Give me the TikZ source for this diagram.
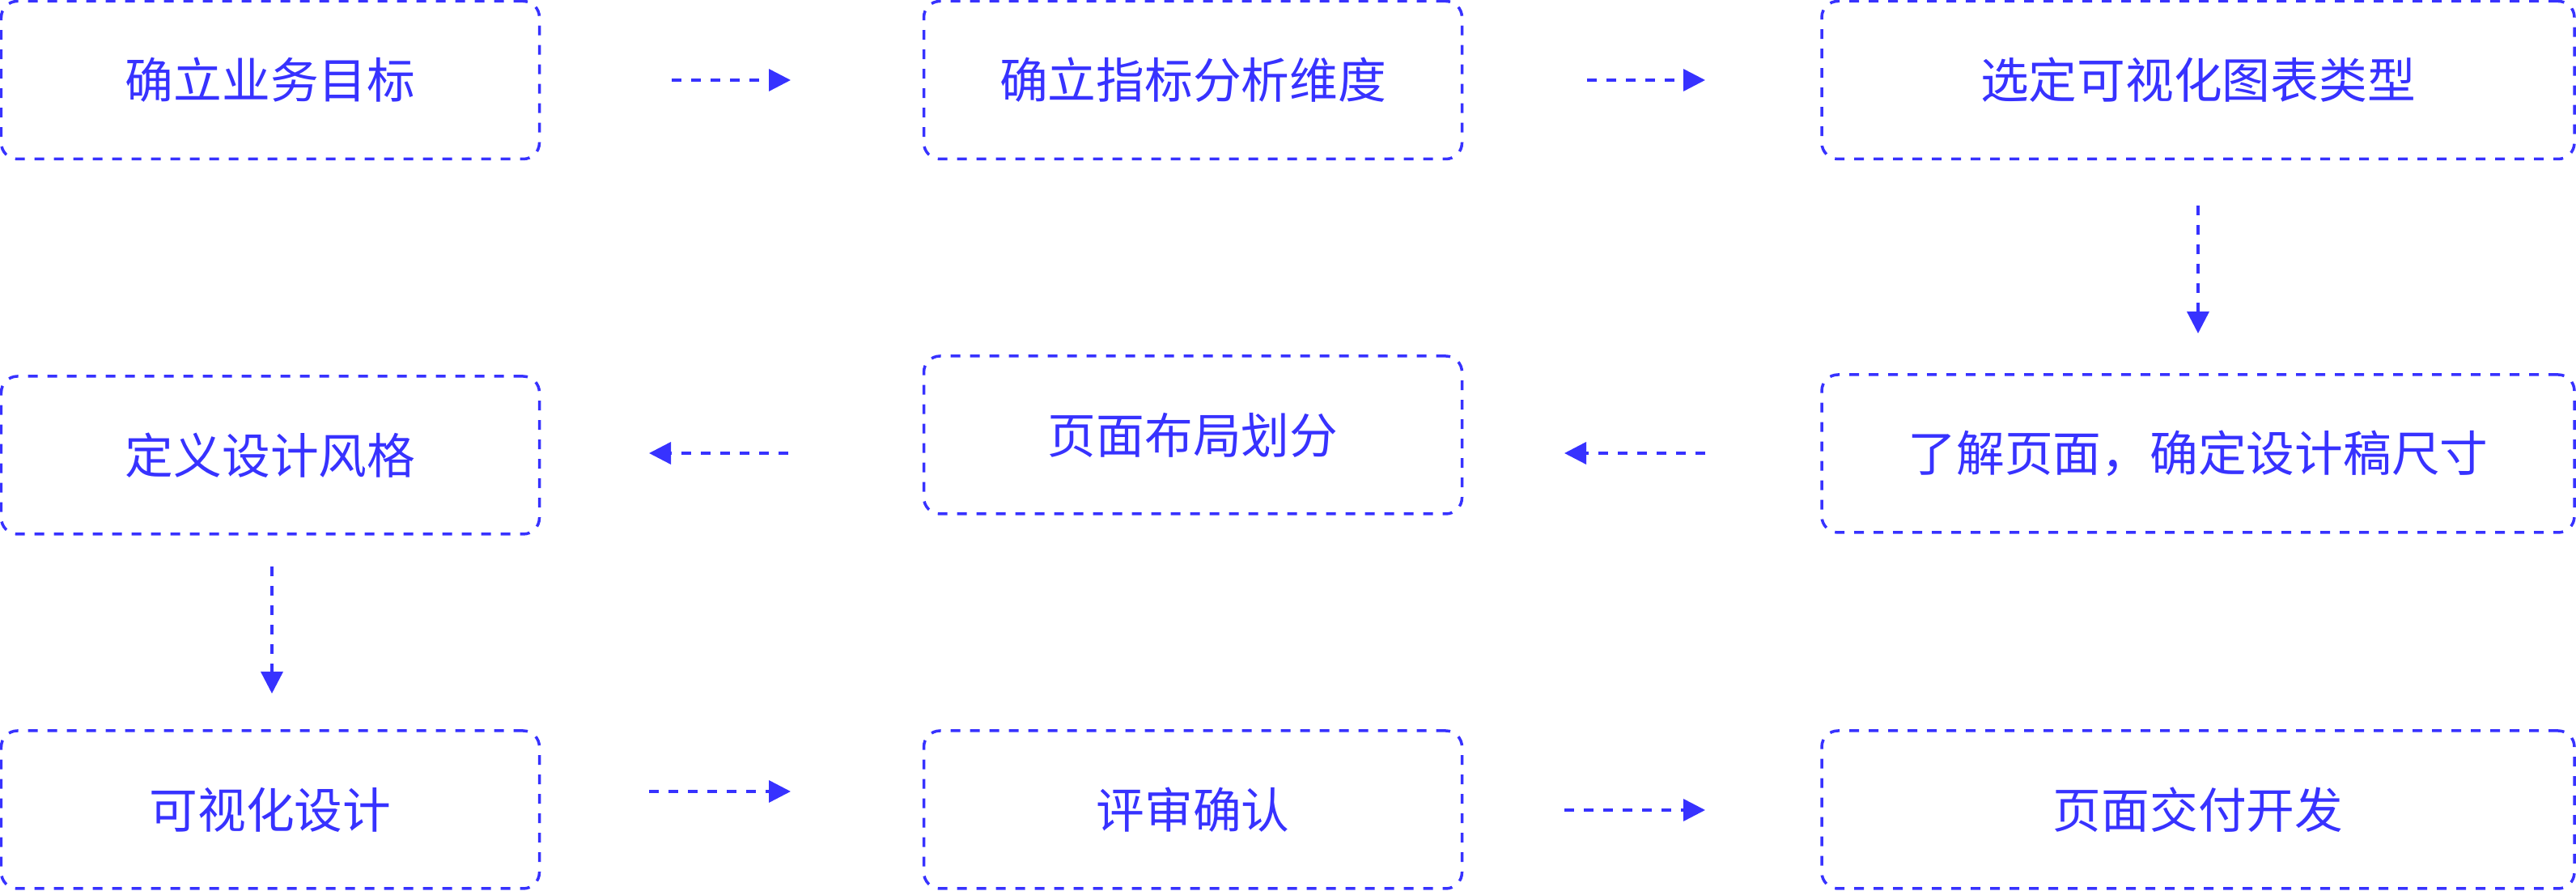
\documentclass[tikz,border=0pt]{standalone}
\usepackage{fontspec}
\newfontfamily\cjk{Noto Sans CJK SC}
\usetikzlibrary{arrows.meta}
\definecolor{flowblue}{RGB}{55,50,255}
\begin{document}
\begin{tikzpicture}[line width=0.035cm, color=flowblue, dash pattern=on 0.12cm off 0.12cm,
box node/.style={draw,rounded corners=0.2cm,minimum height=1.95cm,inner sep=0pt},
narrow node/.style={box node,minimum width=6.65cm},
wide node/.style={box node,minimum width=9.30cm},
flow/.style={-{Triangle[length=0.27cm,width=0.27cm]}}]
\useasboundingbox (0,0) rectangle (31.83,-11.01);
\begin{scope}[every node/.style={font=\cjk\fontsize{17pt}{20pt}\selectfont}]
\node [narrow node] (goal) at (3.34,-0.99) {确立业务目标};
\node [narrow node] (dims) at (14.74,-0.99) {确立指标分析维度};
\node [wide node] (chart) at (27.16,-0.99) {选定可视化图表类型};
\node [narrow node] (style) at (3.34,-5.625) {定义设计风格};
\node [narrow node] (layout) at (14.74,-5.375) {页面布局划分};
\node [wide node] (size) at (27.16,-5.605) {了解页面，确定设计稿尺寸};
\node [narrow node] (design) at (3.34,-10.005) {可视化设计};
\node [narrow node] (review) at (14.74,-10.005) {评审确认};
\node [wide node] (deliver) at (27.16,-10.005) {页面交付开发};
\end{scope}
% arrow ends
\coordinate (a11) at (8.30,-0.99);
\coordinate (a12) at (9.77,-0.99);
\coordinate (a21) at (19.61,-0.99);
\coordinate (a22) at (21.07,-0.99);
\coordinate (a31) at (27.16,-2.54);
\coordinate (a32) at (27.16,-4.12);
\coordinate (a41) at (21.07,-5.60);
\coordinate (a42) at (19.33,-5.60);
\coordinate (a51) at (9.74,-5.60);
\coordinate (a52) at (8.02,-5.60);
\coordinate (a61) at (3.36,-7.00);
\coordinate (a62) at (3.36,-8.57);
\coordinate (a71) at (8.02,-9.78);
\coordinate (a72) at (9.77,-9.78);
\coordinate (a81) at (19.33,-10.01);
\coordinate (a82) at (21.07,-10.01);
\draw [flow] (a11) -- (a12);
\draw [flow] (a21) -- (a22);
\draw [flow] (a31) -- (a32);
\draw [flow] (a41) -- (a42);
\draw [flow] (a51) -- (a52);
\draw [flow] (a61) -- (a62);
\draw [flow] (a71) -- (a72);
\draw [flow] (a81) -- (a82);
\end{tikzpicture}
\end{document}
